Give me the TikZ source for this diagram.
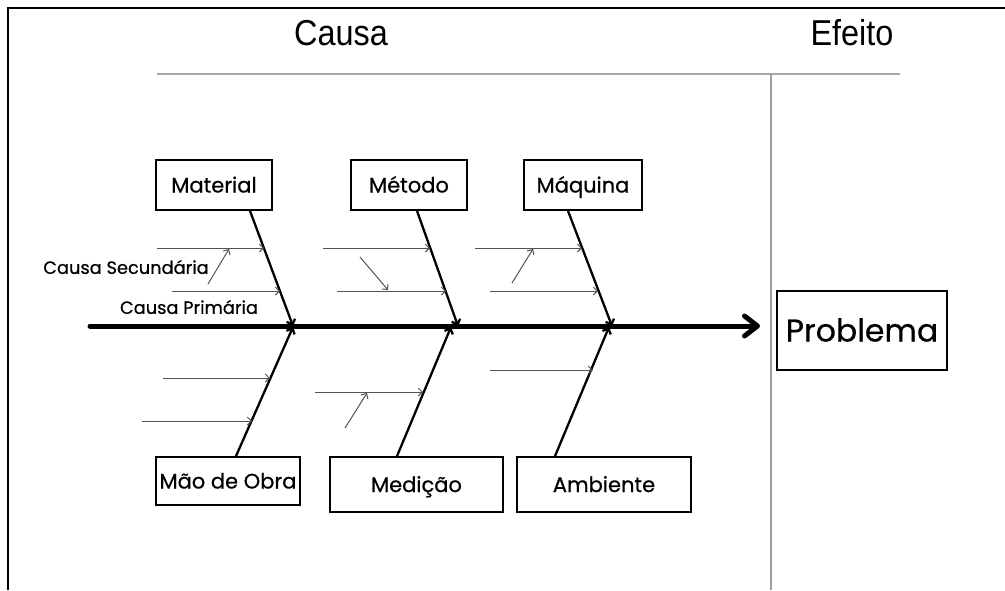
\documentclass[tikz,border=0pt]{standalone}
\usepackage{fontspec}
\setmainfont[FakeBold=0.6]{Poppins}
\newfontfamily\headfont[FakeStretch=0.9]{Liberation Sans}
\usetikzlibrary{arrows.meta}

\tikzset{
  frame/.style={line width=2pt, black},
  rule/.style={line width=1.8pt, gray!70},
  divider/.style={line width=1.3pt, gray!75},
  spine/.style={line width=5pt, black, line cap=round,
    -{Straight Barb[length=13pt,width=20pt,round]}},
  bone/.style={line width=2.3pt, black,
    -{Straight Barb[length=4.5pt,width=9pt]}},
  sub/.style={line width=1pt, gray!65!black,
    -{Straight Barb[length=4pt,width=8pt]}},
  catbox/.style={draw, line width=1.8pt, inner sep=0pt,
    text height=15pt, text depth=0pt, font=\fontsize{21}{25}\selectfont},
  head/.style={font=\headfont\fontsize{36}{40}\selectfont},
  note/.style={font=\fontsize{17.8}{21}\selectfont, inner sep=0pt}
}

\begin{document}
\begin{tikzpicture}[x=1pt,y=-1pt]
\useasboundingbox (0,0) rectangle (1005,590);

% outer frame (left and top edges)
\draw[frame] (8,590) -- (8,8) -- (1005,8);

% headings with the rule beneath and the divider
\node[head] (causa) at (341,33) {Causa};
\node[head] (efeito) at (852,33) {Efeito};
\coordinate (r0) at (157,74);
\coordinate (r1) at (900,74);
\coordinate (d0) at (771,74);
\coordinate (d1) at (771,590);
\draw[rule] (r0) -- (r1);
\draw[divider] (d0) -- (d1);

% effect
\node[catbox, minimum width=170pt, minimum height=79pt, text height=22pt,
      font=\fontsize{31.5}{35}\selectfont] (prob) at (862,330.5) {Problema};

% main spine
\coordinate (s0) at (90,326);
\coordinate (s1) at (760,326);
\draw[spine] (s0) -- (s1);

% category boxes
\node[catbox, minimum width=116pt, minimum height=50pt] (mat) at (214,185) {Material};
\node[catbox, minimum width=116pt, minimum height=50pt] (met) at (409,185) {Método};
\node[catbox, minimum width=118pt, minimum height=50pt] (maq) at (583,185) {Máquina};
\node[catbox, minimum width=144pt, minimum height=48pt] (mao) at (228,481) {Mão de Obra};
\node[catbox, minimum width=173pt, minimum height=55pt] (med) at (416.5,484.5) {Medição};
\node[catbox, minimum width=174pt, minimum height=55pt] (amb) at (604,484.5) {Ambiente};

% junctions on the spine
\coordinate (j1) at (293,326);
\coordinate (j2) at (458,326);
\coordinate (j3) at (612,326);
\coordinate (k1) at (293,327);
\coordinate (k2) at (451,327);
\coordinate (k3) at (609,327);

% main bones
\draw[bone] ([xshift=36pt]mat.south) -- (j1);
\draw[bone] ([xshift=8pt]met.south) -- (j2);
\draw[bone] ([xshift=-15pt]maq.south) -- (j3);
\draw[bone] ([xshift=8pt]mao.north) -- (k1);
\draw[bone] ([xshift=-19.5pt]med.north) -- (k2);
\draw[bone] ([xshift=-49pt]amb.north) -- (k3);

% secondary causes: Material
\coordinate (a1) at (157,248); \coordinate (b1) at (264,248);
\coordinate (a2) at (172,291); \coordinate (b2) at (280,291);
\coordinate (a3) at (208,284); \coordinate (b3) at (229,249);
\draw[sub] (a1) -- (b1);
\draw[sub] (a2) -- (b2);
\draw[sub] (a3) -- (b3);

% secondary causes: Método
\coordinate (a4) at (323,248); \coordinate (b4) at (430,248);
\coordinate (a5) at (337,291); \coordinate (b5) at (446,291);
\coordinate (a6) at (360,257); \coordinate (b6) at (388,290);
\draw[sub] (a4) -- (b4);
\draw[sub] (a5) -- (b5);
\draw[sub] (a6) -- (b6);

% secondary causes: Máquina
\coordinate (a7) at (475,248); \coordinate (b7) at (582,248);
\coordinate (a8) at (490,291); \coordinate (b8) at (598,291);
\coordinate (a9) at (512,283); \coordinate (b9) at (533,249);
\draw[sub] (a7) -- (b7);
\draw[sub] (a8) -- (b8);
\draw[sub] (a9) -- (b9);

% secondary causes: Mão de Obra
\coordinate (a10) at (163,378); \coordinate (b10) at (270,378);
\coordinate (a11) at (142,421); \coordinate (b11) at (252,421);
\draw[sub] (a10) -- (b10);
\draw[sub] (a11) -- (b11);

% secondary causes: Medição
\coordinate (a12) at (315,392); \coordinate (b12) at (423,392);
\coordinate (a13) at (345,428); \coordinate (b13) at (367,393);
\draw[sub] (a12) -- (b12);
\draw[sub] (a13) -- (b13);

% secondary causes: Ambiente
\coordinate (a14) at (490,370); \coordinate (b14) at (593,370);
\draw[sub] (a14) -- (b14);

% labels
\node[note] (sec) at (126,267) {Causa Secundária};
\node[note] (pri) at (189,307) {Causa Primária};
\end{tikzpicture}
\end{document}
